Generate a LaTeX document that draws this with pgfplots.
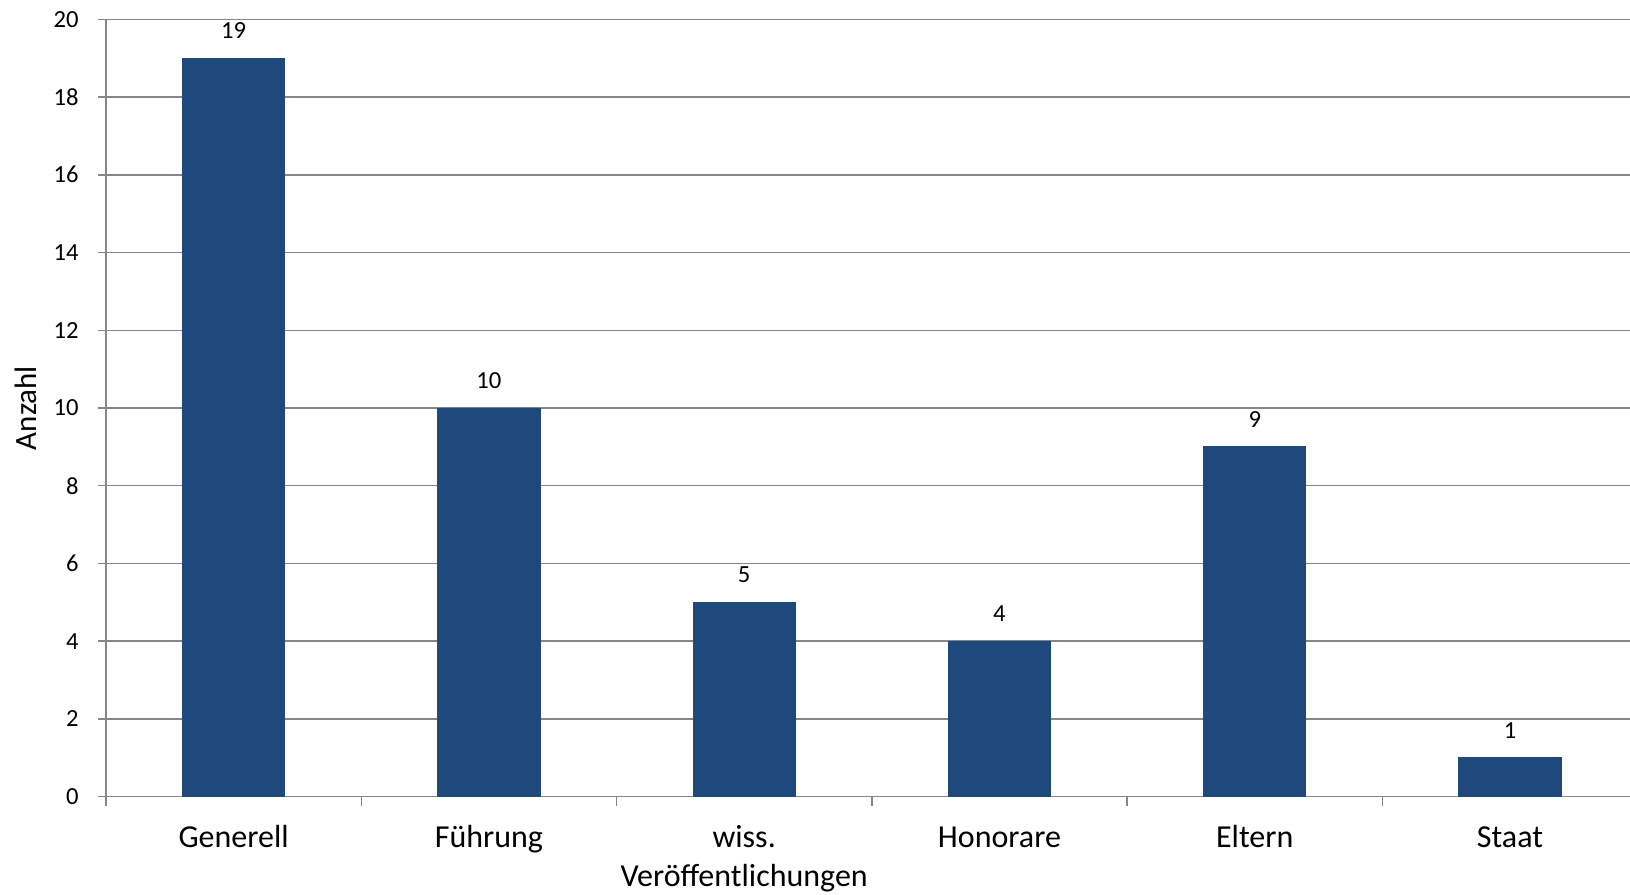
\documentclass[border=0pt]{standalone}
\usepackage{pgfplots}
\pgfplotsset{compat=1.18}
\usepackage{fontspec}
\setmainfont{Carlito}
\definecolor{barblue}{RGB}{31,73,125}
\definecolor{axgray}{RGB}{134,134,134}
\begin{document}
\begin{tikzpicture}
\useasboundingbox (-53pt,-49.15pt) rectangle (762pt,398.35pt);
\begin{axis}[
  at={(0,0)}, anchor=south west,
  scale only axis,
  width=762pt, height=388.7pt,
  xmin=-0.5, xmax=5.47, ymin=0, ymax=20,
  axis lines=left,
  axis line style={-, draw=axgray, line width=0.75pt},
  ymajorgrids=true,
  grid style={draw=axgray, line width=0.75pt},
  ytick={0,2,...,20},
  xtick={0,...,5},
  xticklabels={Generell, Führung, {\begin{tabular}[t]{@{}c@{}}wiss.\\Veröffentlichungen\end{tabular}}, Honorare, Eltern, Staat},
  minor xtick={-0.5,0.5,...,4.5},
  tick align=outside,
  major tick length=4pt,
  minor tick length=4.5pt,
  every major x tick/.append style={draw=none},
  every tick/.append style={draw=axgray, line width=0.75pt},
  /pgf/number format/assume math mode=true,
  x tick label style={font=\fontsize{16}{19.5}\selectfont, inner sep=0pt, anchor=base, yshift=-21.5pt},
  y tick label style={font=\fontsize{12.3}{14}\selectfont, inner sep=0pt, anchor=east, xshift=-9.5pt},
  ylabel={Anzahl},
  ylabel style={font=\fontsize{15.5}{19}\selectfont, at={(axis description cs:-0.0453,0.5)}, anchor=south, inner sep=0pt},
  nodes near coords,
  every node near coord/.append style={font=\fontsize{12.3}{14}\selectfont, text=black, inner sep=0pt, anchor=south, yshift=9.5pt},
]
\addplot[ybar, bar width=51.15pt, fill=barblue, draw=barblue] coordinates {
  (0,19) (1,10) (2,5) (3,4) (4,9) (5,1)
};
\end{axis}
\end{tikzpicture}
\end{document}
